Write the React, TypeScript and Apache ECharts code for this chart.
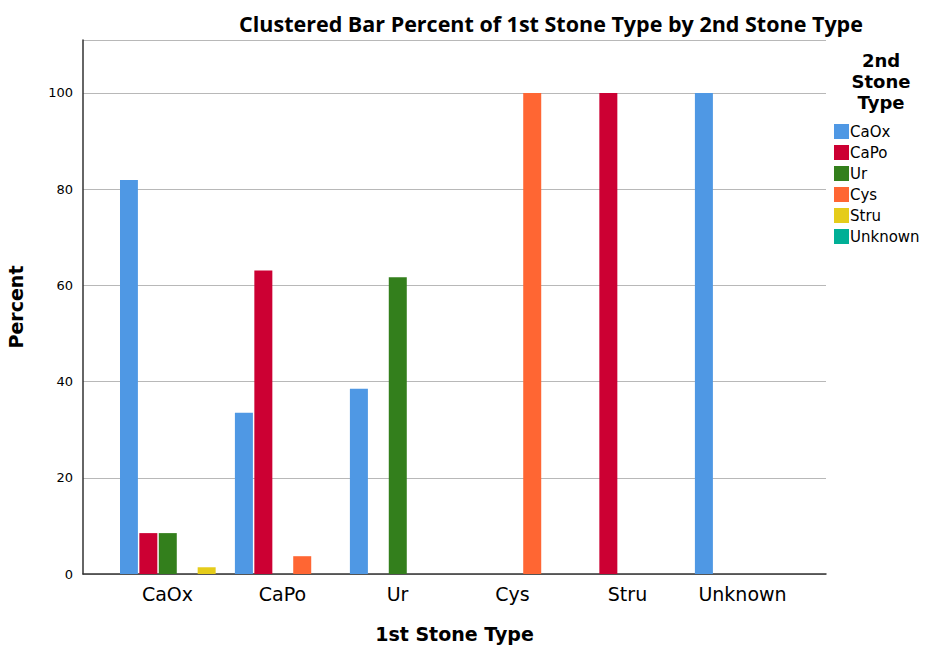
import React, { useEffect, useRef } from "react";
import * as echarts from "echarts";

const categories = ["CaOx", "CaPo", "Ur", "Cys", "Stru", "Unknown"];
const seriesNames = ["CaOx", "CaPo", "Ur", "Cys", "Stru", "Unknown"];
const colors = ["#4F98E4", "#CC0033", "#337F1C", "#FF6633", "#E5CC1A", "#00AF96"];
// values[series][category]
const valCaOx = [81.9, 33.5, 38.5, null, null, 100];
const valCaPo = [8.5, 63.1, null, null, 100, null];
const valUr = [8.5, null, 61.7, null, null, null];
const valCys = [null, 3.7, null, 100, null, null];
const valStru = [1.4, null, null, null, null, null];
const valUnknown = [null, null, null, null, null, null];
const yTicks = [0, 20, 40, 60, 80, 100];

const allValues = [valCaOx, valCaPo, valUr, valCys, valStru, valUnknown];

export default function App() {
  const ref = useRef<HTMLDivElement>(null);
  useEffect(() => {
    if (!ref.current) return;
    const chart = echarts.init(ref.current, null, { renderer: "svg" });
    const font = "DejaVu Sans";
    chart.setOption({
      animation: false,
      backgroundColor: "#ffffff",
      title: [
        {
          text: "Clustered Bar Percent of 1st Stone Type by 2nd Stone Type",
          left: 546,
          top: 7,
          textAlign: "center",
          textStyle: { fontFamily: "Open Sans", fontWeight: "bold", fontSize: 21.5, color: "#000" },
        },
        {
          text: "2nd\nStone\nType",
          left: 876,
          top: 45,
          textAlign: "center",
          textStyle: { fontFamily: font, fontWeight: "bold", fontSize: 18, lineHeight: 21, color: "#000" },
        },
      ],
      legend: {
        orient: "vertical",
        left: 829,
        top: 119,
        itemWidth: 15,
        itemHeight: 15,
        itemGap: 6,
        icon: "rect",
        data: seriesNames,
        textStyle: { fontFamily: font, fontSize: 15, color: "#000", padding: [0, 0, 0, -4] },
      },
      grid: [
        { left: 83, right: 102, top: 40, bottom: 71, containLabel: false, outerBoundsMode: "none" },
        { left: 120, right: 118, top: 40, bottom: 71, containLabel: false, outerBoundsMode: "none" },
      ],
      xAxis: [
        {
          gridIndex: 0,
          type: "category",
          data: categories,
          axisLine: { show: true, lineStyle: { color: "#333", width: 1.5 } },
          axisTick: { show: false },
          axisLabel: { show: false },
          name: "1st Stone Type",
          nameLocation: "middle",
          nameGap: 50,
          nameTextStyle: { fontFamily: font, fontWeight: "bold", fontSize: 19, color: "#000" },
        },
        {
          gridIndex: 1,
          type: "category",
          data: categories,
          axisLine: { show: false },
          axisTick: { show: false },
          axisLabel: {
            show: true,
            margin: 10,
            fontFamily: font,
            fontSize: 19,
            color: "#000",
            padding: [0, 20, 0, 0],
          },
        },
      ],
      yAxis: [
        {
          gridIndex: 0,
          type: "value",
          min: 0,
          max: 111,
          interval: 20,
          axisLine: { show: true, lineStyle: { color: "#333", width: 1.5 } },
          axisTick: { show: false },
          axisLabel: {
            fontFamily: font,
            fontSize: 13,
            color: "#000",
            margin: 10,
            formatter: (v: number) => (yTicks.includes(v) ? String(v) : ""),
          },
          splitLine: { show: true, lineStyle: { color: "#b8b8b8", width: 1 } },
          name: "Percent",
          nameLocation: "middle",
          nameGap: 58,
          nameTextStyle: { fontFamily: font, fontWeight: "bold", fontSize: 19, color: "#000" },
        },
        {
          gridIndex: 1,
          type: "value",
          min: 0,
          max: 111,
          show: false,
          splitLine: { show: false },
        },
      ],
      series: seriesNames.map((name, i) => ({
        name,
        type: "bar",
        xAxisIndex: 1,
        yAxisIndex: 1,
        data: allValues[i],
        barWidth: 18,
        barGap: "8%",
        itemStyle: { color: colors[i] },
      })),
    });
    return () => chart.dispose();
  }, []);
  return <div ref={ref} style={{ width: 928, height: 645, position: "absolute", left: 0, top: 0 }} />;
}
